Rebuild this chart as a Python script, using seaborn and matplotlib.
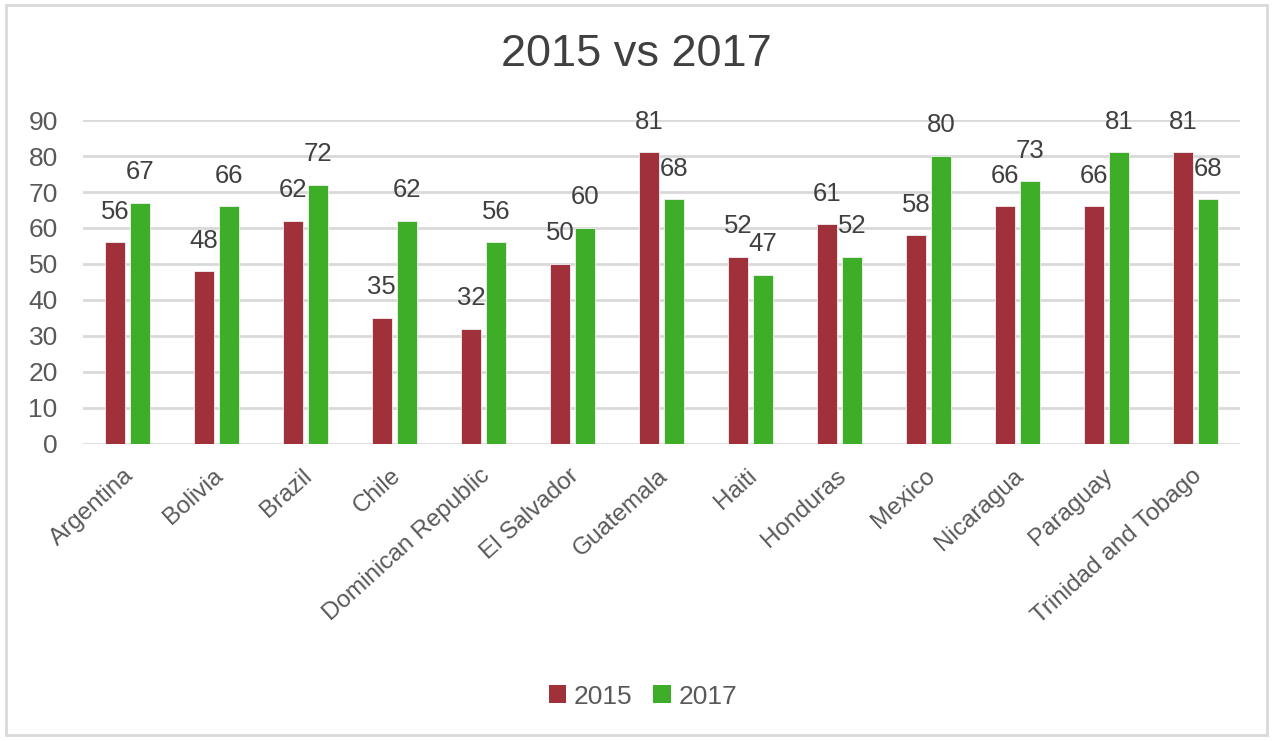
import pandas as pd
import matplotlib.pyplot as plt
import matplotlib.transforms as mtransforms
import seaborn as sns
from matplotlib.patches import Rectangle, Patch

# Data
countries = ['Argentina', 'Bolivia', 'Brazil', 'Chile', 'Dominican Republic',
             'El Salvador', 'Guatemala', 'Haiti', 'Honduras', 'Mexico',
             'Nicaragua', 'Paraguay', 'Trinidad and Tobago']
values_2015 = [56, 48, 62, 35, 32, 50, 81, 52, 61, 58, 66, 66, 81]
values_2017 = [67, 66, 72, 62, 56, 60, 68, 47, 52, 80, 73, 81, 68]
years = ['2015', '2017']

df = pd.DataFrame({
    'Country': countries * 2,
    'Year': [years[0]] * len(countries) + [years[1]] * len(countries),
    'Value': values_2015 + values_2017,
})

sns.set_theme(style='white')
plt.rcParams['font.family'] = ['Liberation Sans', 'DejaVu Sans']

palette = {'2015': '#A0313A', '2017': '#3EAE29'}
text_dark = '#404040'
text_grey = '#595959'

fig = plt.figure(figsize=(12.73, 7.41), dpi=100)
ax = fig.add_axes([0.065, 0.401, 0.909, 0.437])

sns.barplot(data=df, x='Country', y='Value', hue='Year', order=countries,
            hue_order=years, palette=palette, width=0.56, gap=0.2,
            edgecolor='#f0f0f0', linewidth=0.6, saturation=1, ax=ax, legend=False)

# Data labels above bars
for p in ax.patches:
    h = p.get_height()
    if h != h or h == 0:
        continue
    ax.annotate(f'{int(round(h))}', (p.get_x() + p.get_width() / 2, h),
                xytext=(0, 22), textcoords='offset points',
                ha='center', va='center', fontsize=18.5, color=text_dark)

ax.set_ylim(0, 90)
ax.set_yticks(range(0, 91, 10))
ax.yaxis.grid(True, color='#d9d9d9', linewidth=2)
ax.set_axisbelow(True)
for s in ax.spines.values():
    s.set_visible(False)
ax.set_xlabel('')
ax.set_ylabel('')
ax.tick_params(axis='y', length=0, pad=18, labelsize=19, labelcolor=text_grey)
ax.tick_params(axis='x', length=0, pad=15, labelsize=17.5, labelcolor=text_grey)
shift = mtransforms.ScaledTranslation(-0.04, 0, fig.dpi_scale_trans)
for lbl in ax.get_xticklabels():
    lbl.set_rotation(42)
    lbl.set_ha('right')
    lbl.set_rotation_mode('anchor')
    lbl.set_transform(lbl.get_transform() + shift)

fig.text(0.5, 0.926, '2015 vs 2017', ha='center', va='center',
         fontsize=32.5, color=text_dark)

handles = [Patch(facecolor=palette[y], edgecolor='none') for y in years]
fig.legend(handles, years, loc='center', bbox_to_anchor=(0.505, 0.06), ncol=2,
           frameon=False, fontsize=19, labelcolor=text_grey,
           handlelength=0.65, handleheight=0.65, handletextpad=0.3, columnspacing=0.8)

# Light chart border
fig.patches.append(Rectangle((0.005, 0.008), 0.99, 0.985, transform=fig.transFigure,
                             fill=False, edgecolor='#d9d9d9', linewidth=2))

plt.savefig('out.png', dpi=100, facecolor='white')
